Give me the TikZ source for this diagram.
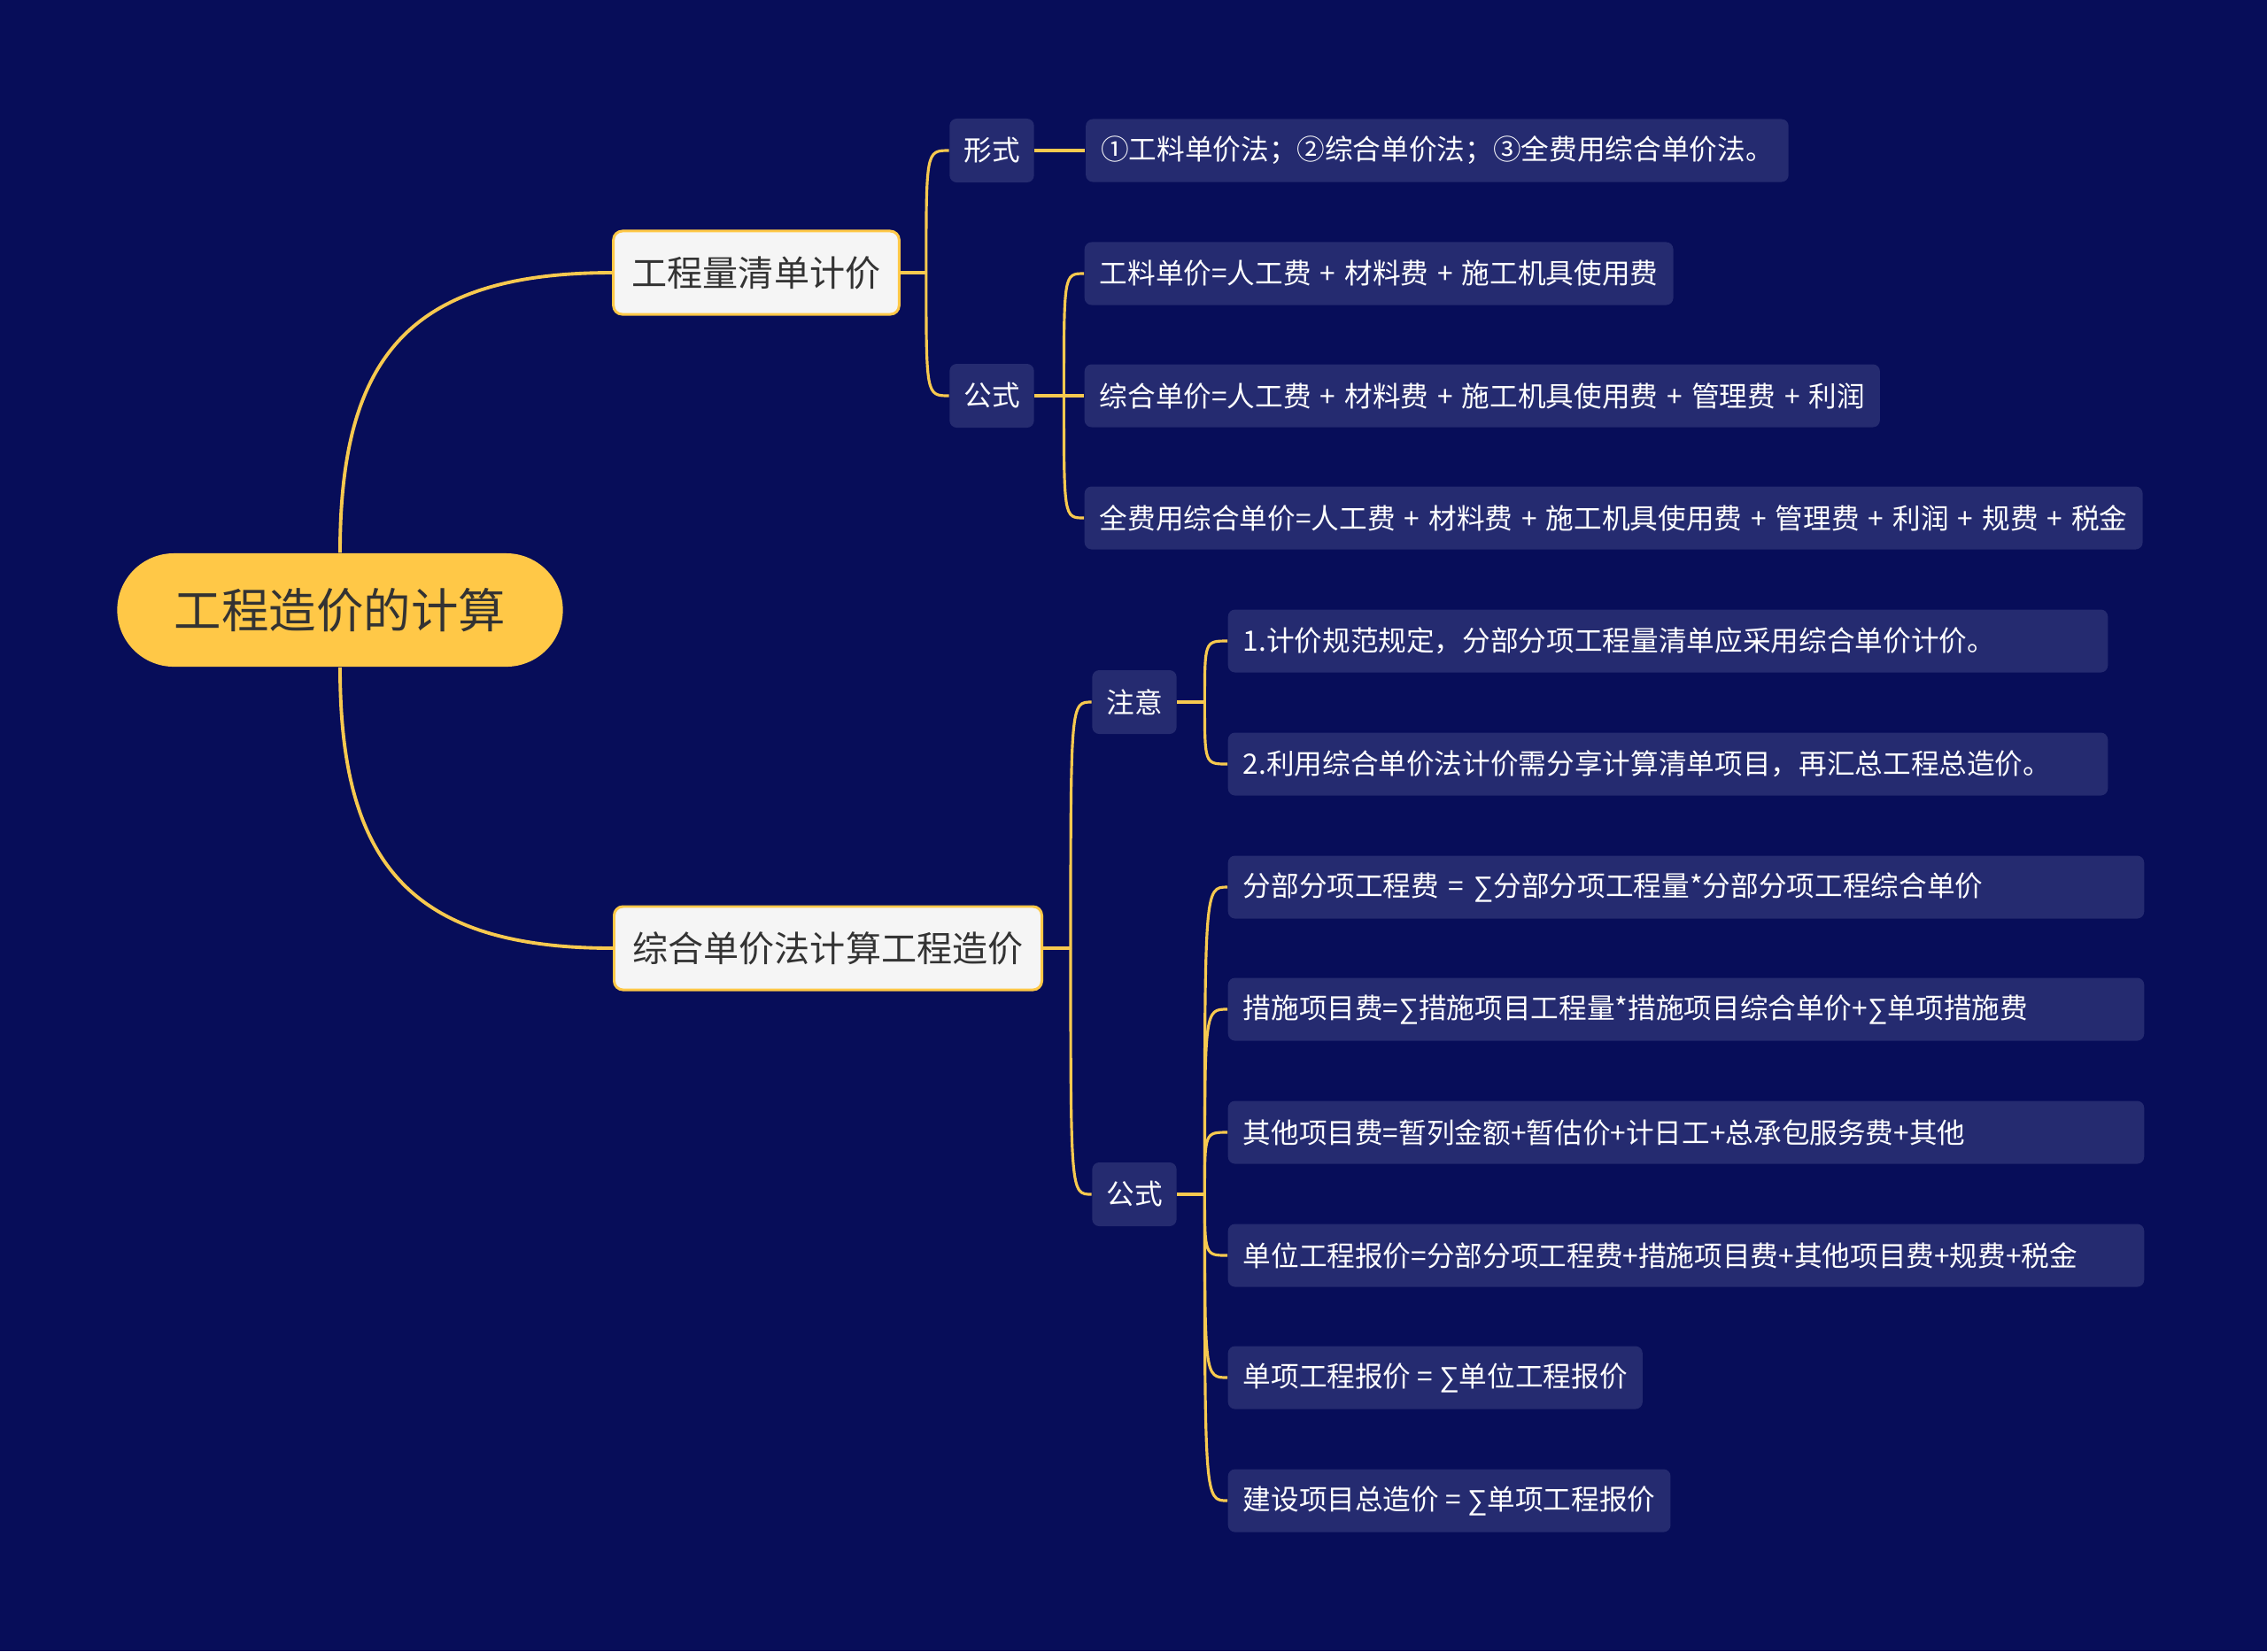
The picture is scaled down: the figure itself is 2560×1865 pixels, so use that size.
\documentclass[tikz,border=0pt]{standalone}
\usepackage{fontspec}
\setmainfont{Noto Sans CJK SC}
\newfontfamily\symfam{Liberation Sans}
\usepackage{tikz}
\usetikzlibrary{positioning}
\definecolor{navy}{HTML}{070D59}
\definecolor{tile}{HTML}{252B70}
\definecolor{gold}{HTML}{FFC847}
\definecolor{wire}{HTML}{F7C94F}
\definecolor{ink}{HTML}{333333}
\definecolor{paper}{HTML}{F5F5F5}
\newcommand\sumsign{{\symfam ∑}}
\newcommand\pl{\hspace{0.1cm}+\hspace{0.1cm}}

\begin{document}
\begin{tikzpicture}[x=0.01cm, y=-0.01cm, every node/.style={font=\fontsize{9}{11}\selectfont}]
\tikzstyle{hub}=[fill=gold, text=ink, rounded corners=0.64cm, minimum width=5.03cm, minimum height=1.28cm, font=\fontsize{15.2}{18}\selectfont]
\tikzstyle{topic}=[draw=gold, line width=0.85pt, fill=paper, text=ink, rounded corners=0.1cm, minimum height=0.94cm, inner xsep=0.21cm, font=\fontsize{11.4}{14}\selectfont]
\tikzstyle{tag}=[fill=tile, text=white, rounded corners=0.08cm, minimum height=0.72cm, inner xsep=0.16cm]
\tikzstyle{leaf}=[fill=tile, text=white, rounded corners=0.08cm, minimum height=0.71cm, inner xsep=0.17cm, anchor=west, align=left]
\tikzstyle{trunk}=[draw=wire, line width=1.1pt]
\tikzstyle{link}=[draw=wire, line width=0.9pt]
\fill[navy] (0,0) rectangle (2560,1865);

% main nodes
\node[hub] (root) at (384,689) {工程造价的计算};
\node[topic] (qd) at (854,308) {工程量清单计价};
\node[topic] (zh) at (935,1071) {综合单价法计算工程造价};

% first branch
\node[tag] (xs) at (1120,170) {形式};
\node[tag] (gsa) at (1120,447) {公式};
\node[leaf, right=0.57cm of xs] (xs1) {①工料单价法；②综合单价法；③全费用综合单价法。};
\node[leaf] (gsa1) at (1224,309) {工料单价=人工费\pl 材料费\pl 施工机具使用费};
\node[leaf] (gsa2) at (1224,447) {综合单价=人工费\pl 材料费\pl 施工机具使用费\pl 管理费\pl 利润};
\node[leaf] (gsa3) at (1224,585) {全费用综合单价=人工费\pl 材料费\pl 施工机具使用费\pl 管理费\pl 利润\pl 规费\pl 税金};

% second branch
\node[tag] (zy) at (1281,793) {注意};
\node[tag] (gsb) at (1281,1349) {公式};
\node[leaf, text width=9.59cm] (zy1) at (1386,724) {1.计价规范规定，分部分项工程量清单应采用综合单价计价。};
\node[leaf, text width=9.59cm] (zy2) at (1386,863) {2.利用综合单价法计价需分享计算清单项目，再汇总工程总造价。};
\node[leaf, text width=10cm] (gsb1) at (1386,1002) {分部分项工程费 = \sumsign 分部分项工程量*分部分项工程综合单价};
\node[leaf, text width=10cm] (gsb2) at (1386,1140) {措施项目费=\sumsign 措施项目工程量*措施项目综合单价+\sumsign 单项措施费};
\node[leaf, text width=10cm] (gsb3) at (1386,1279) {其他项目费=暂列金额+暂估价+计日工+总承包服务费+其他};
\node[leaf, text width=10cm] (gsb4) at (1386,1418) {单位工程报价=分部分项工程费+措施项目费+其他项目费+规费+税金};
\node[leaf] (gsb5) at (1386,1556) {单项工程报价 = \sumsign 单位工程报价};
\node[leaf] (gsb6) at (1386,1695) {建设项目总造价 = \sumsign 单项工程报价};

% junctions
\coordinate (ja) at ([xshift=0.29cm]qd.east);
\coordinate (jb) at ([xshift=0.33cm]gsa.east);
\coordinate (jc) at ([xshift=0.31cm]zh.east);
\coordinate (jd) at ([xshift=0.31cm]zy.east);
\coordinate (je) at ([xshift=0.31cm]gsb.east);

% connectors
\draw[trunk] (root.north) .. controls +(0,-220) and +(-230,0) .. (qd.west);
\draw[trunk] (root.south) .. controls +(0,220) and +(-230,0) .. (zh.west);
\draw[link] (qd.east) -- (ja);
\draw[link] (ja) .. controls (ja |- xs.west) .. (xs.west); \draw[link] (ja) .. controls (ja |- gsa.west) .. (gsa.west);
\draw[link] (xs) -- (xs1);
\draw[link] (gsa.east) -- (jb);
\draw[link] (jb) .. controls (jb |- gsa1.west) .. (gsa1.west); \draw[link] (jb) -- (gsa2.west); \draw[link] (jb) .. controls (jb |- gsa3.west) .. (gsa3.west);
\draw[link] (zh.east) -- (jc);
\draw[link] (jc) .. controls (jc |- zy.west) .. (zy.west); \draw[link] (jc) .. controls (jc |- gsb.west) .. (gsb.west);
\draw[link] (zy.east) -- (jd);
\draw[link] (jd) .. controls (jd |- zy1.west) .. (zy1.west); \draw[link] (jd) .. controls (jd |- zy2.west) .. (zy2.west);
\draw[link] (gsb.east) -- (je);
\draw[link] (je) .. controls (je |- gsb1.west) .. (gsb1.west); \draw[link] (je) .. controls (je |- gsb2.west) .. (gsb2.west);
\draw[link] (je) .. controls (je |- gsb3.west) .. (gsb3.west); \draw[link] (je) .. controls (je |- gsb4.west) .. (gsb4.west);
\draw[link] (je) .. controls (je |- gsb5.west) .. (gsb5.west); \draw[link] (je) .. controls (je |- gsb6.west) .. (gsb6.west);
\end{tikzpicture}
\end{document}
